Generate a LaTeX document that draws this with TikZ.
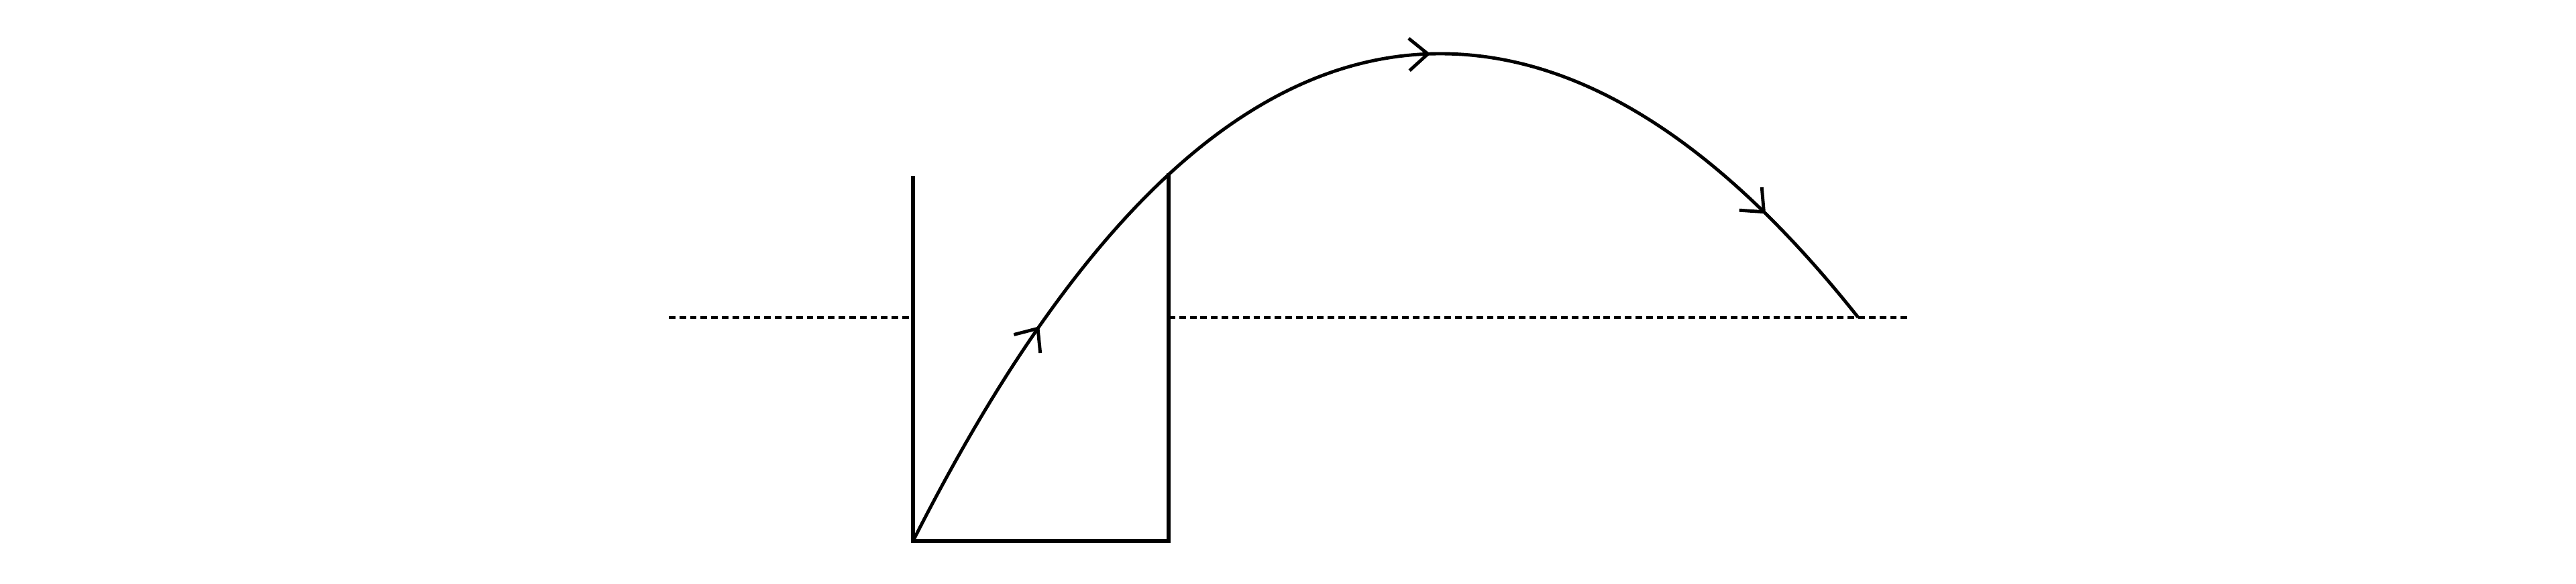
\documentclass[tikz,border=0pt]{standalone}
\usepackage{tikz}
\usetikzlibrary{arrows.meta,decorations.markings}

\begin{document}
\begin{tikzpicture}
%\draw[very thin, color = gray](0, 0) grid (38, 8);
\tikzstyle{wall} = [draw, line width = 1.5pt]
\tikzstyle{level} = [draw, line width = 1.3pt, dash pattern = on 2.8pt off 1.7pt]
\tikzstyle{jet} = [draw, line width = 1.4pt, postaction = {decorate},
  decoration = {markings,
    mark = at position 0.197 with {\arrow{Straight Barb[length = 2.8mm, width = 4.8mm]}},
    mark = at position 0.588 with {\arrow{Straight Barb[length = 2.8mm, width = 4.8mm]}},
    mark = at position 0.89 with {\arrow{Straight Barb[length = 2.8mm, width = 4.8mm]}}}]
\useasboundingbox (0, 0) rectangle (38.4, 8.69);
\coordinate (lefttop) at (13.61, 6.07);
\coordinate (nozzle) at (13.61, 0.63);
\coordinate (corner) at (17.42, 0.63);
\coordinate (righttop) at (17.42, 6.11);
\coordinate (leftlevel) at (13.61, 3.96);
\coordinate (rightlevel) at (17.42, 3.96);
\coordinate (farleft) at (9.97, 3.96);
\coordinate (farright) at (28.43, 3.96);
\coordinate (apex) at (21.47, 7.89);
\coordinate (landing) at (27.70, 3.96);
\path [wall] (lefttop) -- (nozzle) -- (corner) -- (righttop);
\path [level] (farleft) -- (leftlevel);
\path [level] (rightlevel) -- (farright);
\path [jet] (nozzle) .. controls (16.23, 5.80) and (18.85, 7.89) .. (apex)
  .. controls (23.55, 7.89) and (25.62, 6.58) .. (landing);
\end{tikzpicture}
\end{document}
